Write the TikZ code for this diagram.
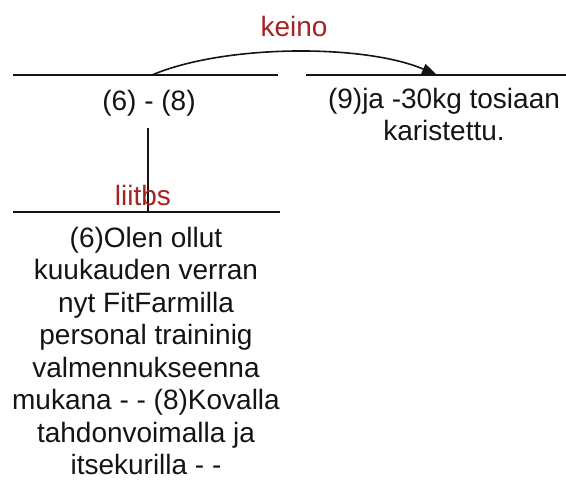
\documentclass[tikz,border=0pt]{standalone}
\usepackage{fontspec}
\setmainfont{Liberation Sans}
\usetikzlibrary{arrows.meta}
\definecolor{relred}{RGB}{165,35,35}
\definecolor{ink}{RGB}{20,20,20}
\begin{document}
\begin{tikzpicture}[x=1pt,y=-1pt,
  seg/.style={line width=2pt, draw=ink},
  txt/.style={font=\fontsize{28}{32.5}\selectfont, align=center, inner sep=0pt, text=ink},
  rel/.style={font=\fontsize{28}{33}\selectfont, text=relred, inner sep=0pt},
  arr/.style={line width=1.6pt, draw=ink, -{Triangle[length=15pt,width=11pt]}}]
\useasboundingbox (0,0) rectangle (566,491);
% horizontal span lines
\coordinate (l1a) at (13,75); \coordinate (l1b) at (278,75);
\coordinate (l2a) at (306,75); \coordinate (l2b) at (566,75);
\coordinate (l3a) at (13,212); \coordinate (l3b) at (280,212);
\draw[seg] (l1a) -- (l1b);
\draw[seg] (l2a) -- (l2b);
\draw[seg] (l3a) -- (l3b);
% texts
\node[txt, anchor=base] (n68) at (149,110) {(6) - (8)};
\node[txt, anchor=north] (n9) at (444,88) {(9)ja -30kg tosiaan\\karistettu.};
\node[txt, anchor=north] (n6) at (146,227) {(6)Olen ollut\\kuukauden verran\\nyt FitFarmilla\\personal traininig\\valmennukseenna\\mukana - - (8)Kovalla\\tahdonvoimalla ja\\itsekurilla - -};
% relation keino
\coordinate (ks) at (152,75);
\coordinate (ke) at (437,75);
\draw[arr] (ks) .. controls (225,44) and (365,44) .. (ke);
\node[rel, anchor=base] (keino) at (294,36) {keino};
% relation liitbs
\coordinate (vt) at (148,128);
\coordinate (vb) at (148,212);
\draw[line width=1.6pt, draw=ink] (vt) -- (vb);
\node[rel, anchor=base] (liitbs) at (143,205) {liitbs};
\end{tikzpicture}
\end{document}
